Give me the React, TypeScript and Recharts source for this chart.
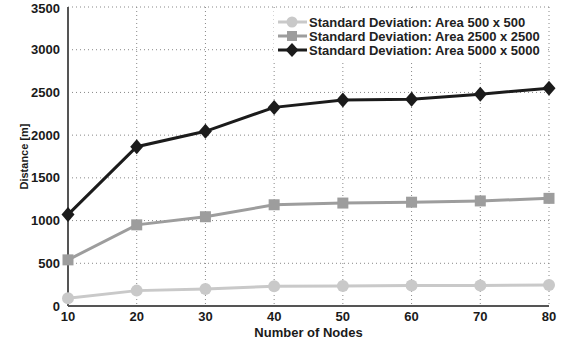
import React from "react";
import { LineChart, Line, XAxis, YAxis, CartesianGrid } from "recharts";

const nodes = [10, 20, 30, 40, 50, 60, 70, 80];
const area500 = [90, 180, 200, 230, 235, 240, 240, 245];
const area2500 = [540, 950, 1045, 1185, 1205, 1215, 1230, 1260];
const area5000 = [1070, 1865, 2045, 2325, 2410, 2420, 2480, 2550];
const xTicks = [10, 20, 30, 40, 50, 60, 70, 80];
const yTicks = [0, 500, 1000, 1500, 2000, 2500, 3000, 3500];
const seriesNames = [
  "Standard Deviation: Area 500 x 500",
  "Standard Deviation: Area 2500 x 2500",
  "Standard Deviation: Area 5000 x 5000",
];

const data = nodes.map((n, i) => ({
  n,
  a: area500[i],
  b: area2500[i],
  c: area5000[i],
}));

const FONT = "'Liberation Sans', Arial, sans-serif";
const C1 = "#c9c9c9";
const C2 = "#9d9d9d";
const C3 = "#1b1b1b";

const circleDot = (p: any) => (
  <circle key={"a" + p.index} cx={p.cx} cy={p.cy} r={6} fill={C1} />
);
const squareDot = (p: any) => (
  <rect key={"b" + p.index} x={p.cx - 5.5} y={p.cy - 5.5} width={11} height={11} fill={C2} />
);
const diamondDot = (p: any) => (
  <polygon
    key={"c" + p.index}
    points={`${p.cx},${p.cy - 7.5} ${p.cx + 6.5},${p.cy} ${p.cx},${p.cy + 7.5} ${p.cx - 6.5},${p.cy}`}
    fill={C3}
  />
);

const LegendBox = () => {
  const marks = [
    <circle cx={14} cy={7} r={5.5} fill={C1} />,
    <rect x={9} y={2} width={10} height={10} fill={C2} />,
    <polygon points="14,0 20.5,7 14,14 7.5,7" fill={C3} />,
  ];
  const cols = [C1, C2, C3];
  return (
    <div
      style={{
        position: "absolute",
        left: 274,
        top: 9,
        width: 272,
        height: 52,
        background: "#fff",
        paddingTop: 6,
        boxSizing: "border-box",
        fontFamily: FONT,
      }}
    >
      {seriesNames.map((s, i) => (
        <div key={s} style={{ display: "flex", alignItems: "center", height: 14, paddingLeft: 4 }}>
          <svg width={29} height={14} style={{ marginRight: 2 }}>
            <line x1={0} y1={7} x2={29} y2={7} stroke={cols[i]} strokeWidth={3} />
            {marks[i]}
          </svg>
          <span style={{ fontSize: 13, fontWeight: "bold", color: "#222", whiteSpace: "nowrap" }}>{s}</span>
        </div>
      ))}
    </div>
  );
};

export default function App() {
  return (
    <div style={{ position: "absolute", left: 0, top: 0, width: 562, height: 343, background: "#fff" }}>
      <LineChart width={562} height={343} data={data} margin={{ top: 7, right: 13, bottom: 7, left: 8 }}>
        <CartesianGrid stroke="#888" strokeDasharray="1 3" />
        <XAxis
          dataKey="n"
          type="number"
          domain={[10, 80]}
          ticks={xTicks}
          height={30}
          axisLine={{ stroke: "#555", strokeWidth: 2 }}
          tickLine={false}
          tick={{ fill: "#1a1a1a", fontSize: 13, fontWeight: "bold", fontFamily: FONT }}
          tickMargin={0}
          label={{
            value: "Number of Nodes",
            position: "insideBottom",
            offset: -1,
            style: { fill: "#1a1a1a", fontSize: 13, fontWeight: "bold", fontFamily: FONT },
          }}
        />
        <YAxis
          type="number"
          domain={[0, 3500]}
          ticks={yTicks}
          width={60}
          axisLine={{ stroke: "#555", strokeWidth: 2 }}
          tickLine={false}
          tick={{ fill: "#1a1a1a", fontSize: 13, fontWeight: "bold", fontFamily: FONT }}
          tickMargin={2}
          label={{
            value: "Distance [m]",
            angle: -90,
            position: "insideLeft",
            offset: 16,
            style: { fill: "#1a1a1a", fontSize: 11, fontWeight: "bold", fontFamily: FONT, textAnchor: "middle" },
          }}
        />
        <Line dataKey="a" name={seriesNames[0]} stroke={C1} strokeWidth={3} dot={circleDot} activeDot={false} isAnimationActive={false} />
        <Line dataKey="b" name={seriesNames[1]} stroke={C2} strokeWidth={3} dot={squareDot} activeDot={false} isAnimationActive={false} />
        <Line dataKey="c" name={seriesNames[2]} stroke={C3} strokeWidth={3} dot={diamondDot} activeDot={false} isAnimationActive={false} />
      </LineChart>
      <LegendBox />
    </div>
  );
}
